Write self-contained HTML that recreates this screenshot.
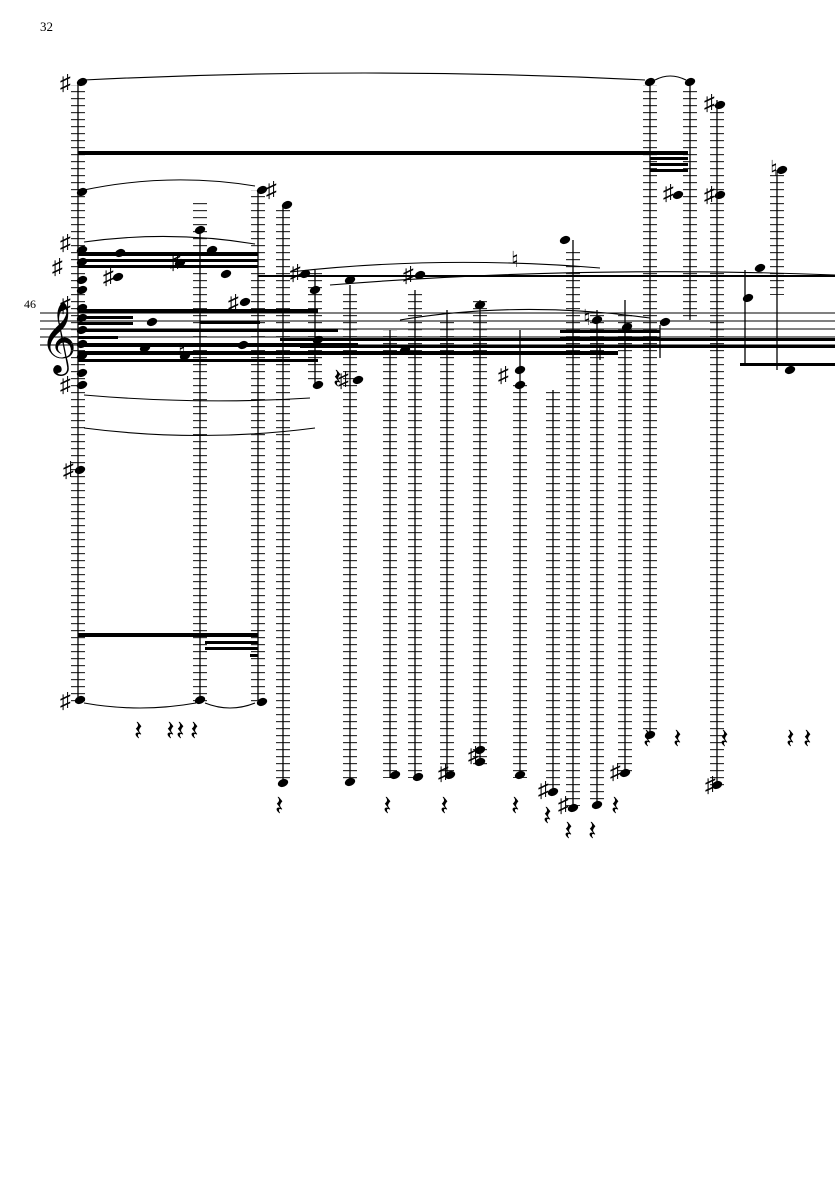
<!DOCTYPE html>
<html><head><meta charset="utf-8"><style>
html,body{margin:0;padding:0;background:#fff;width:835px;height:1181px;overflow:hidden}
svg{display:block}
text{font-family:"Liberation Serif",serif;fill:#000}
</style></head><body>
<svg width="835" height="1181" viewBox="0 0 835 1181" xmlns="http://www.w3.org/2000/svg">
<defs>
<pattern id="L" width="14" height="7" patternUnits="userSpaceOnUse"><rect x="0" y="0" width="14" height="1.2" fill="#333"/></pattern>
<g id="n"><ellipse cx="0" cy="0" rx="5.4" ry="3.8" transform="rotate(-22)" fill="#000"/></g>
</defs>
<text x="40" y="31" font-size="13">32</text>
<text x="24" y="308" font-size="12">46</text>
<g stroke="#000" stroke-width="1">
<line x1="40" y1="313" x2="835" y2="313"/><line x1="40" y1="321" x2="835" y2="321"/>
<line x1="40" y1="329" x2="835" y2="329"/><line x1="40" y1="337" x2="835" y2="337"/>
<line x1="40" y1="345" x2="835" y2="345"/>
</g>
<text x="40" y="358" font-size="62" font-family="DejaVu Sans">𝄞</text>
<g fill="url(#L)">
<rect x="71" y="85" width="14" height="620"/>
<rect x="193" y="200" width="14" height="505"/>
<rect x="251" y="190" width="14" height="515"/>
<rect x="276" y="205" width="14" height="575"/>
<rect x="308" y="270" width="14" height="115"/>
<rect x="343" y="290" width="14" height="492"/>
<rect x="383" y="330" width="14" height="448"/>
<rect x="408" y="290" width="14" height="488"/>
<rect x="440" y="320" width="14" height="455"/>
<rect x="473" y="300" width="14" height="465"/>
<rect x="513" y="380" width="14" height="398"/>
<rect x="546" y="390" width="14" height="400"/>
<rect x="566" y="250" width="14" height="556"/>
<rect x="590" y="310" width="14" height="495"/>
<rect x="618" y="310" width="14" height="465"/>
<rect x="643" y="85" width="14" height="650"/>
<rect x="683" y="90" width="14" height="230"/>
<rect x="710" y="100" width="14" height="690"/>
<rect x="770" y="170" width="14" height="125"/>
</g>
<g stroke="#000" stroke-width="1.3">
<line x1="78" y1="82" x2="78" y2="700"/>
<line x1="200" y1="230" x2="200" y2="700"/>
<line x1="258" y1="190" x2="258" y2="700"/>
<line x1="283" y1="205" x2="283" y2="780"/>
<line x1="315" y1="270" x2="315" y2="385"/>
<line x1="350" y1="285" x2="350" y2="782"/>
<line x1="390" y1="330" x2="390" y2="778"/>
<line x1="415" y1="290" x2="415" y2="778"/>
<line x1="447" y1="310" x2="447" y2="775"/>
<line x1="480" y1="300" x2="480" y2="765"/>
<line x1="520" y1="330" x2="520" y2="778"/>
<line x1="553" y1="390" x2="553" y2="792"/>
<line x1="573" y1="240" x2="573" y2="806"/>
<line x1="597" y1="310" x2="597" y2="805"/>
<line x1="625" y1="300" x2="625" y2="775"/>
<line x1="650" y1="82" x2="650" y2="735"/>
<line x1="690" y1="85" x2="690" y2="320"/>
<line x1="717" y1="100" x2="717" y2="785"/>
<line x1="745" y1="270" x2="745" y2="365"/>
<line x1="777" y1="170" x2="777" y2="370"/>
<line x1="660" y1="325" x2="660" y2="358"/>
<line x1="600" y1="345" x2="600" y2="360"/>
</g>
<g fill="#000">
<rect x="78" y="151" width="610" height="4"/>
<rect x="650" y="157" width="38" height="3"/><rect x="650" y="163" width="38" height="3"/><rect x="650" y="169" width="38" height="3"/>
<rect x="78" y="633" width="180" height="4"/>
<rect x="205" y="641" width="53" height="3"/><rect x="205" y="647" width="53" height="3"/><rect x="250" y="654" width="8" height="3"/>
<rect x="78" y="252" width="180" height="4"/><rect x="78" y="259" width="180" height="3"/><rect x="78" y="265" width="180" height="3"/>
<rect x="78" y="309" width="240" height="4"/><rect x="78" y="316" width="55" height="3"/>
<rect x="78" y="322" width="55" height="3"/><rect x="78" y="329" width="260" height="3"/>
<rect x="78" y="336" width="40" height="3"/><rect x="78" y="343" width="280" height="4"/>
<rect x="78" y="351" width="540" height="4"/><rect x="78" y="359" width="240" height="3"/>
<rect x="280" y="338" width="555" height="3"/><rect x="300" y="345" width="535" height="3"/>
<rect x="560" y="330" width="100" height="3"/><rect x="560" y="337" width="100" height="2"/>
<rect x="258" y="275" width="577" height="2"/><rect x="200" y="321" width="60" height="3"/>
<rect x="740" y="363" width="95" height="3"/>
</g>
<g>
<use href="#n" x="82" y="82"/><use href="#n" x="82" y="192"/><use href="#n" x="82" y="250"/><use href="#n" x="82" y="262"/>
<use href="#n" x="82" y="280"/><use href="#n" x="82" y="290"/><use href="#n" x="82" y="308"/><use href="#n" x="82" y="318"/>
<use href="#n" x="82" y="330"/><use href="#n" x="82" y="344"/><use href="#n" x="82" y="356"/><use href="#n" x="82" y="373"/>
<use href="#n" x="82" y="385"/><use href="#n" x="80" y="470"/><use href="#n" x="80" y="700"/>
<use href="#n" x="120" y="253"/><use href="#n" x="118" y="277"/><use href="#n" x="152" y="322"/><use href="#n" x="145" y="348"/>
<use href="#n" x="180" y="263"/><use href="#n" x="185" y="356"/><use href="#n" x="200" y="230"/><use href="#n" x="200" y="700"/>
<use href="#n" x="212" y="250"/><use href="#n" x="245" y="302"/><use href="#n" x="243" y="345"/><use href="#n" x="226" y="274"/>
<use href="#n" x="262" y="702"/><use href="#n" x="262" y="190"/><use href="#n" x="287" y="205"/><use href="#n" x="283" y="783"/>
<use href="#n" x="305" y="274"/><use href="#n" x="315" y="290"/><use href="#n" x="318" y="340"/><use href="#n" x="318" y="385"/>
<use href="#n" x="350" y="280"/><use href="#n" x="350" y="782"/><use href="#n" x="358" y="380"/><use href="#n" x="395" y="775"/>
<use href="#n" x="420" y="275"/><use href="#n" x="418" y="777"/><use href="#n" x="450" y="775"/><use href="#n" x="480" y="305"/>
<use href="#n" x="480" y="750"/><use href="#n" x="480" y="762"/><use href="#n" x="405" y="350"/><use href="#n" x="520" y="775"/>
<use href="#n" x="520" y="370"/><use href="#n" x="520" y="385"/><use href="#n" x="553" y="792"/><use href="#n" x="573" y="808"/>
<use href="#n" x="565" y="240"/><use href="#n" x="597" y="805"/><use href="#n" x="597" y="320"/><use href="#n" x="625" y="773"/>
<use href="#n" x="627" y="327"/><use href="#n" x="650" y="82"/><use href="#n" x="650" y="735"/><use href="#n" x="690" y="82"/>
<use href="#n" x="678" y="195"/><use href="#n" x="720" y="105"/><use href="#n" x="720" y="195"/><use href="#n" x="717" y="785"/>
<use href="#n" x="748" y="298"/><use href="#n" x="782" y="170"/><use href="#n" x="790" y="370"/><use href="#n" x="665" y="322"/>
<use href="#n" x="760" y="268"/>
</g>
<g fill="none" stroke="#000" stroke-width="1.1">
<path d="M84 80 Q365 66 645 80"/><path d="M655 80 Q670 72 686 80"/>
<path d="M84 190 Q170 172 255 186"/><path d="M84 242 Q170 230 255 244"/>
<path d="M84 395 Q200 405 310 398"/><path d="M84 428 Q200 443 315 428"/>
<path d="M290 272 Q440 255 600 268"/><path d="M330 285 Q580 265 835 275"/>
<path d="M84 703 Q140 713 196 703"/><path d="M205 703 Q230 713 255 703"/>
<path d="M400 320 Q520 300 650 318"/>
</g>
<g font-size="22" font-family="DejaVu Sans">
<text x="60" y="90">♯</text><text x="60" y="250">♯</text><text x="52" y="274">♯</text><text x="60" y="312">♯</text>
<text x="60" y="392">♯</text><text x="63" y="477">♯</text><text x="60" y="708">♯</text><text x="103" y="284">♯</text>
<text x="170" y="269">♯</text><text x="228" y="310">♯</text><text x="290" y="280">♯</text><text x="338" y="387">♯</text>
<text x="403" y="282">♯</text><text x="438" y="780">♯</text><text x="468" y="762">♯</text><text x="498" y="382">♯</text>
<text x="538" y="797">♯</text><text x="558" y="812">♯</text><text x="610" y="779">♯</text><text x="704" y="110">♯</text>
<text x="704" y="202">♯</text><text x="663" y="200">♯</text><text x="266" y="197">♯</text><text x="705" y="792">♯</text>
<text x="583" y="325">♮</text><text x="770" y="176">♮</text><text x="178" y="359">♮</text><text x="511" y="267">♮</text>
</g>
<g font-size="28" font-family="DejaVu Sans">
<text x="134" y="740">𝄽</text><text x="166" y="740">𝄽</text><text x="176" y="740">𝄽</text><text x="190" y="740">𝄽</text>
<text x="275" y="815">𝄽</text><text x="333" y="388">𝄽</text><text x="383" y="815">𝄽</text><text x="440" y="815">𝄽</text>
<text x="511" y="815">𝄽</text><text x="543" y="825">𝄽</text><text x="564" y="840">𝄽</text><text x="588" y="840">𝄽</text>
<text x="611" y="815">𝄽</text><text x="643" y="748">𝄽</text><text x="673" y="748">𝄽</text><text x="720" y="748">𝄽</text>
<text x="786" y="748">𝄽</text><text x="803" y="748">𝄽</text>
</g>
</svg>
</body></html>
